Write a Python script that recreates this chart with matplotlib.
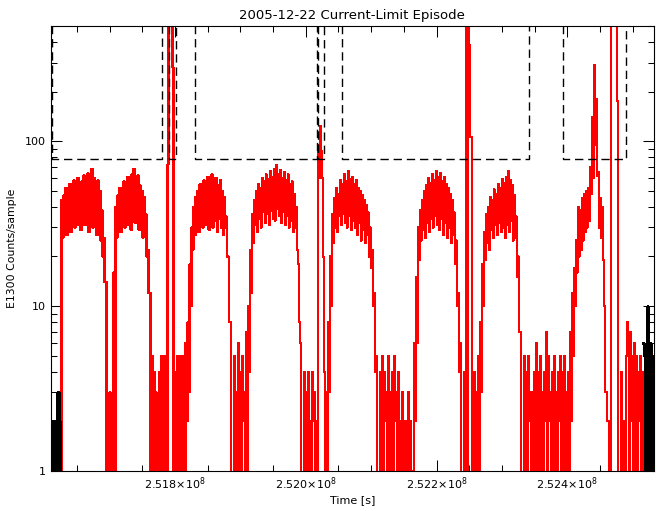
import numpy as np
import matplotlib
matplotlib.use('Agg')
import matplotlib.pyplot as plt
from matplotlib.ticker import FixedLocator, MultipleLocator, LogLocator, NullFormatter

# sample grid for the E1300 series (one sample every 1530 s)
T0 = 2.5161181e8
DT = 1530.0

# counts per sample (0 = below the axis)
lead = [0] * 10
hump1 = [44, 26, 47, 30, 52, 27, 48, 33, 55, 28, 51, 35, 58, 30, 54, 36, 60, 31, 53, 29, 57, 38, 62, 31,
         55, 33, 64, 28, 58, 36, 68, 30, 60, 33, 54, 27, 58, 31, 50, 25, 38, 20, 26, 14, 14, 0]
gap1 = [0, 0, 3, 0, 0, 0]
hump2 = [16, 0, 40, 26, 47, 32, 52, 28, 49, 35, 57, 30, 53, 36, 61, 31, 56, 29, 63, 37, 68, 32, 58, 34,
         62, 29, 54, 33, 50, 26, 46, 30, 36, 20, 22, 12, 12, 0]
gap2 = [5, 0, 4, 2, 3, 0, 2, 0, 4, 0, 5, 2, 3, 0, 5, 1, 72, 1000, 1000, 1000, 1000, 280, 0, 0,
        4, 0, 5, 2, 3, 1, 5, 1, 4, 0, 6, 2]
hump3 = [8, 3, 18, 10, 30, 22, 40, 27, 46, 33, 50, 28, 55, 34, 52, 30, 58, 36, 54, 31, 61, 29, 57, 35,
         63, 30, 56, 33, 60, 28, 54, 34, 58, 30, 50, 27, 46, 30, 35, 20, 20, 8, 8, 0]
gap3 = [0, 0, 5, 0, 3, 0, 6, 1, 4, 0, 5, 2, 3, 0, 7, 0]
hump4 = [10, 4, 22, 12, 36, 24, 44, 31, 50, 28, 55, 34, 52, 30, 60, 37, 57, 32, 63, 36, 59, 31, 66, 38,
         61, 34, 68, 33, 72, 39, 63, 35, 67, 32, 60, 37, 65, 31, 58, 35, 63, 30, 55, 33, 57, 28, 48, 30,
         40, 22, 18, 8, 6, 0]
gap4 = [0, 0, 4, 0, 3, 1, 4, 1, 2, 0, 4, 2, 3, 0, 2, 0, 95, 60, 124, 88, 60, 20, 4, 0, 3, 0]
hump5 = [8, 3, 20, 10, 36, 24, 45, 30, 52, 28, 48, 35, 58, 31, 55, 36, 63, 32, 57, 30, 66, 35, 59, 29,
         61, 33, 55, 30, 58, 27, 52, 32, 50, 25, 47, 29, 44, 24, 41, 27, 37, 20, 30, 17, 22, 10, 12, 4, 5, 0]
gap5 = [0, 0, 4, 0, 5, 1, 4, 2, 3, 0, 5, 1, 3, 0, 4, 0, 5, 2, 3, 0, 4, 0, 2, 0, 3, 0, 2, 0,
        2, 0, 3, 0, 2, 0, 1, 0]
hump6 = [6, 2, 15, 6, 30, 19, 38, 25, 44, 29, 50, 26, 54, 32, 60, 28, 56, 34, 63, 30, 58, 35, 66, 31,
         61, 29, 64, 34, 57, 27, 61, 32, 55, 26, 52, 30, 48, 24, 44, 27, 37, 18, 25, 10, 12, 4, 6, 0]
gap6 = [0, 0, 4, 0, 1000, 0, 1000, 385, 106, 106, 0, 0, 4, 0, 3, 0, 5, 1]
hump7 = [8, 3, 18, 10, 28, 19, 36, 24, 40, 22, 46, 29, 44, 26, 51, 31, 48, 27, 55, 32, 52, 28, 59, 30,
         56, 26, 61, 31, 66, 28, 58, 33, 54, 25, 47, 26, 35, 15, 20, 7, 7, 0]
gap7 = [0, 0, 5, 0, 4, 1, 5, 2, 3, 0, 3, 1, 4, 0, 6, 1, 4, 0, 5, 0, 3, 0, 4, 2, 7, 0, 5, 2, 3, 0,
        4, 1, 5, 0, 3, 0, 4, 2, 5, 0, 4, 0, 5, 1, 3, 0]
hump8 = [4, 0, 7, 2, 12, 5, 17, 10, 25, 16, 40, 20, 38, 22, 45, 25, 48, 28, 50, 30, 52, 33, 70, 48,
         140, 60, 290, 95, 180, 62, 65, 30, 45, 26, 40, 19, 10, 3]
gap8 = [3, 2, 2, 0, 0, 1000, 1000, 1000, 1000, 1000, 1000, 176, 0, 0, 0, 4, 0, 2, 0, 0,
        5, 8, 6, 0, 7, 2, 5, 0, 6, 1, 5, 0, 4, 2, 5, 0, 4, 0]
tail = [0] * 10

# black series at the two ends (one sample every 1530 s)
blk_left_t0 = 2.5161028e8
blk_left = [2, 2, 0, 2, 0, 2, 0, 3, 3, 2, 0]
blk_right_t0 = 2.5251604e8
blk_right = [6, 5, 0, 5, 10, 5, 0, 6, 5, 0, 5]

# current-limit threshold (dashed), steps-post
thr_t = [2.51600e8, 2.51612e8, 2.51780e8, 2.51791e8, 2.51802e8, 2.51830e8, 2.52017e8,
         2.52018e8, 2.52028e8, 2.52056e8, 2.52342e8, 2.52394e8, 2.52490e8, 2.52600e8]
thr_v = [1000, 78, 1000, 78, 1000, 78, 1000, 78, 1000, 78, 1000, 78, 1000, 1000]

counts = np.array(lead + hump1 + gap1 + hump2 + gap2 + hump3 + gap3 + hump4 + gap4 +
                  hump5 + gap5 + hump6 + gap6 + hump7 + gap7 + hump8 + gap8 + tail, float)
t = T0 + DT * np.arange(len(counts))

fig = plt.figure(figsize=(6.64, 5.11), dpi=100)
ax = fig.add_axes([0.0768, 0.0783, 0.9074, 0.8708])

ax.plot(t, counts, color='#ff0000', lw=0.8, drawstyle='steps-mid', antialiased=False)
ax.plot(blk_left_t0 + DT * np.arange(len(blk_left)), blk_left, color='black', lw=0.8,
        drawstyle='steps-mid', antialiased=False)
ax.plot(blk_right_t0 + DT * np.arange(len(blk_right)), blk_right, color='black', lw=0.8,
        drawstyle='steps-mid', antialiased=False)
ax.plot(thr_t, thr_v, color='black', lw=1.0, ls=(0, (6, 3.5)), drawstyle='steps-post')

ax.set_yscale('log')
ax.set_ylim(1, 500)
ax.set_xlim(2.5161028e8, 2.5253180e8)

xt = [2.518e8, 2.520e8, 2.522e8, 2.524e8]
ax.xaxis.set_major_locator(FixedLocator(xt))
ax.set_xticklabels([r'$2.518{\times}10^{8}$', r'$2.520{\times}10^{8}$',
                    r'$2.522{\times}10^{8}$', r'$2.524{\times}10^{8}$'], fontsize=8)
ax.xaxis.set_minor_locator(MultipleLocator(5e4))
ax.yaxis.set_major_locator(FixedLocator([1, 10, 100]))
ax.set_yticklabels(['1', '10', '100'], fontsize=8)
ax.yaxis.set_minor_locator(LogLocator(subs=range(2, 10)))
ax.yaxis.set_minor_formatter(NullFormatter())

ax.tick_params(which='both', direction='in', top=True, right=True, width=0.75)
ax.tick_params(which='major', length=8)
ax.tick_params(which='minor', length=4)
for s in ax.spines.values():
    s.set_linewidth(0.8)

ax.set_title('2005-12-22 Current-Limit Episode', fontsize=9.5, pad=5)
ax.set_xlabel('Time [s]', fontsize=8, labelpad=2)
ax.set_ylabel('E1300 Counts/sample', fontsize=7.8, labelpad=6)

fig.savefig('out.png', dpi=100)
